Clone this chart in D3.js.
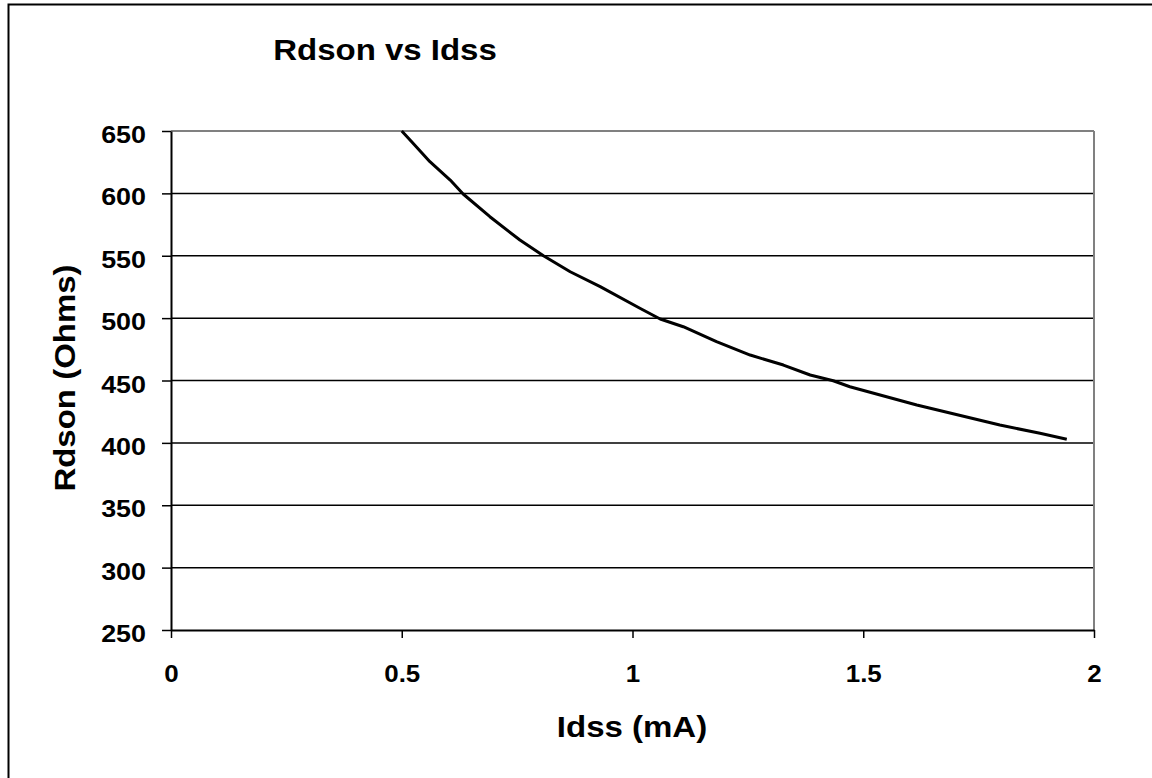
<!DOCTYPE html>
<html><head><meta charset="utf-8">
<script src="https://cdn.jsdelivr.net/npm/d3@7"></script>
<style>
html,body{margin:0;padding:0;background:#fff;}
svg{display:block;font-family:"Liberation Sans",Arial,sans-serif;font-weight:bold;}
</style></head>
<body>
<script>
// Data
const idss = [0.500,0.522,0.561,0.605,0.633,0.691,0.756,0.807,0.865,0.930,1.016,1.060,1.110,1.182,1.255,1.327,1.385,1.435,1.471,1.616,1.796,1.883,1.941];
const rdson = [650,641.2,625.4,610.7,599.5,581.3,562.6,550,537.2,525.2,507.9,499.3,493.1,481.1,470.4,462.4,454.4,449.8,445,430.4,414.3,407.7,402.9];
const xTicks = [0,0.5,1,1.5,2];
const yTicks = [250,300,350,400,450,500,550,600,650];
const titleText = "Rdson vs Idss";
const xTitle = "Idss (mA)";
const yTitle = "Rdson (Ohms)";

const W = 1152, H = 778;
const m = {left:171, top:131, right:1094, bottom:630};

const svg = d3.select("body").append("svg").attr("width",W).attr("height",H);
svg.append("rect").attr("x",8.5).attr("y",4.5).attr("width",1160).attr("height",800)
  .attr("fill","#fff").attr("stroke","#000").attr("stroke-width",2);

const x = d3.scaleLinear().domain([0,2]).range([m.left,m.right]);
const y = d3.scaleLinear().domain([250,650]).range([m.bottom,m.top]);

// gridlines
svg.append("g").selectAll("line").data(yTicks.filter(v=>v>250 && v<650)).join("line")
  .attr("x1",m.left).attr("x2",m.right).attr("y1",d=>y(d)).attr("y2",d=>y(d))
  .attr("stroke","#000").attr("stroke-width",1.5);
// plot border top/right gray
svg.append("line").attr("x1",m.left).attr("x2",m.right).attr("y1",m.top).attr("y2",m.top)
  .attr("stroke","#808080").attr("stroke-width",2);
svg.append("line").attr("x1",m.right).attr("x2",m.right).attr("y1",m.top).attr("y2",m.bottom)
  .attr("stroke","#808080").attr("stroke-width",2);

// axes
const yAxis = svg.append("g").attr("transform",`translate(${m.left},0)`)
  .call(d3.axisLeft(y).tickValues(yTicks).tickSize(9).tickSizeOuter(0).tickFormat(d3.format("d")));
const xAxis = svg.append("g").attr("transform",`translate(0,${m.bottom})`)
  .call(d3.axisBottom(x).tickValues(xTicks).tickSize(8).tickSizeOuter(0).tickFormat(d=>String(d)));
[yAxis,xAxis].forEach(a=>{
  a.select(".domain").attr("stroke","#000").attr("stroke-width",2);
  a.selectAll(".tick line").attr("stroke","#000").attr("stroke-width",1.5);
  a.selectAll("text").attr("font-family",'"Liberation Sans",Arial,sans-serif')
    .attr("font-weight","bold").attr("font-size",24).attr("fill","#000");
});
const sxT = 1.12;
yAxis.selectAll(".tick text").attr("x",null).attr("dy",null)
  .attr("transform",`translate(-25,11.5) scale(${sxT},1)`).attr("text-anchor","end");
xAxis.selectAll(".tick text").attr("y",null).attr("dy",null)
  .attr("transform",`translate(0,51.5) scale(1.08,1)`).attr("text-anchor","middle");

// curve
const pts = idss.map((v,i)=>[v,rdson[i]]);
svg.append("path").datum(pts)
  .attr("d",d3.line().x(d=>x(d[0])).y(d=>y(d[1])))
  .attr("fill","none").attr("stroke","#000").attr("stroke-width",3).attr("stroke-linejoin","round");

// titles
const sxL = 1.1;
svg.append("text").attr("transform",`translate(385,60) scale(${sxL},1)`)
  .attr("text-anchor","middle").attr("font-size",30).text(titleText);
svg.append("text").attr("transform",`translate(632,737) scale(${sxL},1)`)
  .attr("text-anchor","middle").attr("font-size",30).text(xTitle);
svg.append("text").attr("transform",`translate(75,378) rotate(-90) scale(${sxL},1)`)
  .attr("text-anchor","middle").attr("font-size",30).text(yTitle);
</script>
</body></html>
